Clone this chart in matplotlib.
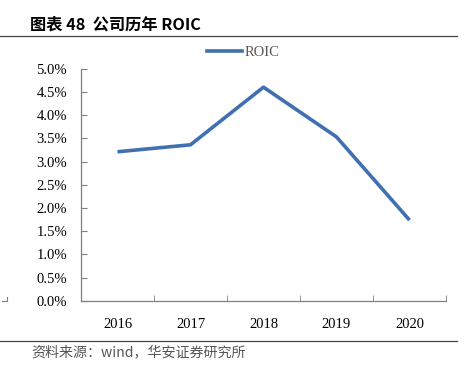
import matplotlib.pyplot as plt
import numpy as np
from matplotlib.lines import Line2D

years = ["2016", "2017", "2018", "2019", "2020"]
roic = [3.21, 3.36, 4.60, 3.53, 1.74]  # %

fig = plt.figure(figsize=(4.68, 3.79), dpi=100)
ax = fig.add_axes([0.173, 0.206, 0.780, 0.613])

x = np.arange(len(years))
ax.plot(x, roic, color="#4170B0", lw=2.6, solid_capstyle="butt")

ax.set_xlim(-0.5, len(years) - 0.5)
ax.set_ylim(0, 5)
ax.set_yticks(np.arange(0, 5.01, 0.5))
ax.set_yticklabels([f"{v:.1f}%" for v in np.arange(0, 5.01, 0.5)],
                   family="Liberation Serif", fontsize=10.5)
ax.set_xticks(x)
ax.set_xticklabels(years, family="Liberation Serif", fontsize=10.5)
ax.set_xticks(np.arange(-0.5, len(years)), minor=True)
ax.tick_params(axis="x", which="major", length=0, pad=12)
ax.tick_params(axis="x", which="minor", direction="in", length=4, color="#808080")
ax.tick_params(axis="y", direction="in", length=4, color="#808080", pad=10)
for s in ["top", "right"]:
    ax.spines[s].set_visible(False)
for s in ["left", "bottom"]:
    ax.spines[s].set_color("#808080")
    ax.spines[s].set_linewidth(0.9)

# legend
h = [Line2D([], [], color="#4170B0", lw=2.6)]
fig.legend(h, ["ROIC"], loc="center", bbox_to_anchor=(0.52, 0.862),
           frameon=False, handlelength=2.4, handletextpad=0.2,
           prop={"family": "Liberation Serif", "size": 10.5},
           labelcolor="#595959")

# title and source
fig.text(0.064, 0.934, "图表 48  公司历年 ROIC", family=["Noto Sans CJK SC", "DejaVu Sans"],
         fontsize=11.7, fontweight="bold", va="center")
fig.add_artist(Line2D([0, 0.977], [0.905, 0.905], color="#444444", lw=0.9))
fig.add_artist(Line2D([0, 0.977], [0.100, 0.100], color="#444444", lw=0.9))
fig.text(0.066, 0.069, "资料来源：wind，华安证券研究所",
         family=["Noto Sans CJK SC", "DejaVu Sans"], fontsize=10.1,
         fontweight="light", color="#555555", va="center")

# small frame corner at left
fig.add_artist(Line2D([0.005, 0.015, 0.015], [0.206, 0.206, 0.216], color="#808080", lw=0.8))

fig.savefig("out.png", dpi=100)
